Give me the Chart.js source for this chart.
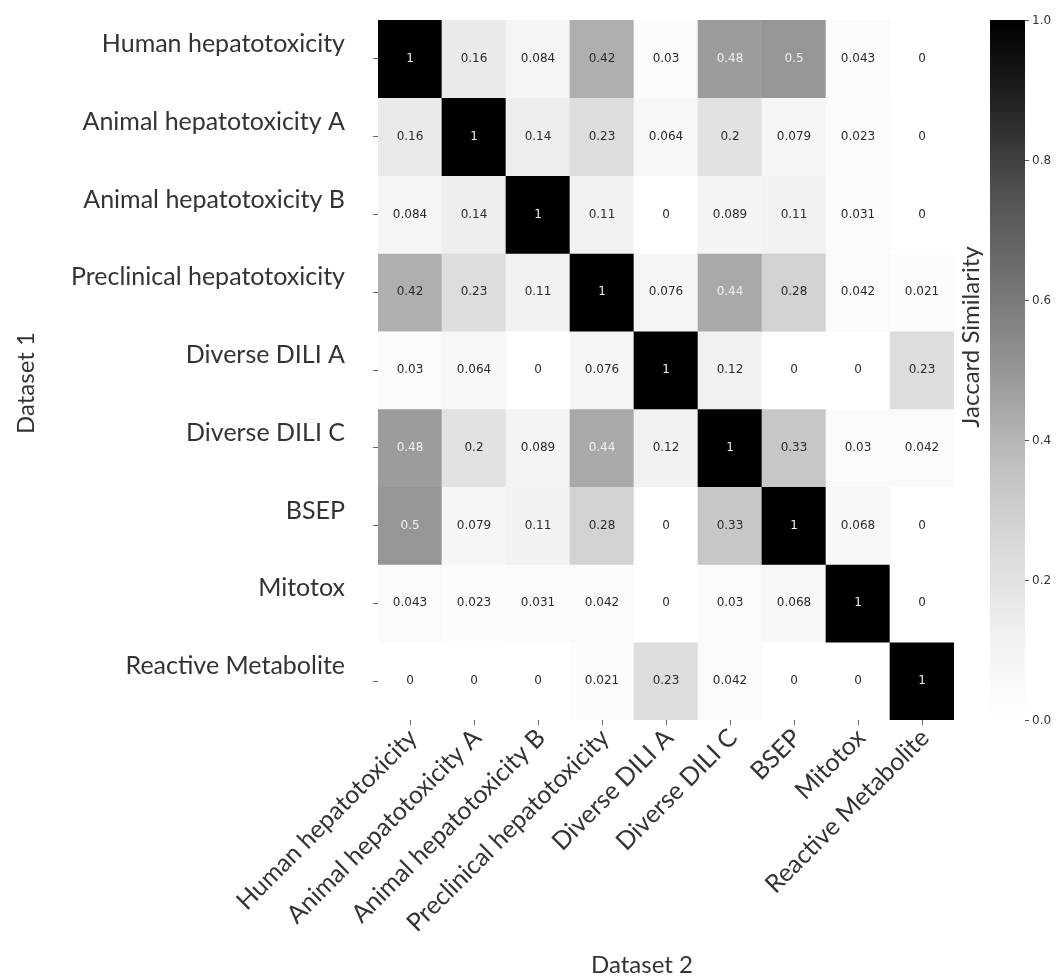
<!DOCTYPE html>
<html>
<head>
<meta charset="utf-8">
<title>Jaccard Similarity between hepatotoxicity datasets</title>
<script src="https://cdn.jsdelivr.net/npm/chart.js@4.4.1/dist/chart.umd.min.js"></script>
<style>
  html, body { margin: 0; padding: 0; background: #ffffff; }
  canvas { display: block; }
</style>
</head>
<body>
<canvas id="heatmap" width="1061" height="976"></canvas>
<script>
// Dataset names (rows = Dataset 1, columns = Dataset 2)
const datasetNames = [
  'Human hepatotoxicity',
  'Animal hepatotoxicity A',
  'Animal hepatotoxicity B',
  'Preclinical hepatotoxicity',
  'Diverse DILI A',
  'Diverse DILI C',
  'BSEP',
  'Mitotox',
  'Reactive Metabolite'
];

// Jaccard similarity, one row per dataset
const humanHepatotoxicity       = [1, 0.16, 0.084, 0.42, 0.03, 0.48, 0.5, 0.043, 0];
const animalHepatotoxicityA     = [0.16, 1, 0.14, 0.23, 0.064, 0.2, 0.079, 0.023, 0];
const animalHepatotoxicityB     = [0.084, 0.14, 1, 0.11, 0, 0.089, 0.11, 0.031, 0];
const preclinicalHepatotoxicity = [0.42, 0.23, 0.11, 1, 0.076, 0.44, 0.28, 0.042, 0.021];
const diverseDiliA              = [0.03, 0.064, 0, 0.076, 1, 0.12, 0, 0, 0.23];
const diverseDiliC              = [0.48, 0.2, 0.089, 0.44, 0.12, 1, 0.33, 0.03, 0.042];
const bsep                      = [0.5, 0.079, 0.11, 0.28, 0, 0.33, 1, 0.068, 0];
const mitotox                   = [0.043, 0.023, 0.031, 0.042, 0, 0.03, 0.068, 1, 0];
const reactiveMetabolite        = [0, 0, 0, 0.021, 0.23, 0.042, 0, 0, 1];

const similarityRows = [
  humanHepatotoxicity, animalHepatotoxicityA, animalHepatotoxicityB,
  preclinicalHepatotoxicity, diverseDiliA, diverseDiliC, bsep, mitotox,
  reactiveMetabolite
];

// Colour bar tick values
const colorbarTicks = [0.0, 0.2, 0.4, 0.6, 0.8, 1.0];

// "Greys" colormap: 9 evenly spaced grey levels from white (0) to black (1)
const GREY_STOPS = [255, 240, 217, 189, 150, 115, 82, 37, 0];

function greyLevel(v) {
  const t = Math.min(1, Math.max(0, v)) * (GREY_STOPS.length - 1);
  const i = Math.min(GREY_STOPS.length - 2, Math.floor(t));
  const f = t - i;
  return GREY_STOPS[i] + (GREY_STOPS[i + 1] - GREY_STOPS[i]) * f;
}
function greyColor(v) {
  const g = Math.round(greyLevel(v));
  return `rgb(${g},${g},${g})`;
}
function annotationColor(v) {
  const c = greyLevel(v) / 255;
  const lin = c <= 0.03928 ? c / 12.92 : Math.pow((c + 0.055) / 1.055, 2.4);
  return lin > 0.408 ? '#2b2b2b' : '#efefef';
}
function formatValue(v) {
  return String(Number(v.toPrecision(2)));
}

const LABEL_FONT = 'Lato';
const TEXT_COLOR = '#333333';

// Writes the similarity value in the middle of every cell
const cellLabels = {
  id: 'cellLabels',
  afterDatasetsDraw(chart) {
    const ctx = chart.ctx;
    ctx.save();
    ctx.font = "12px 'DejaVu Sans'";
    ctx.textAlign = 'center';
    ctx.textBaseline = 'middle';
    chart.data.datasets.forEach((ds, d) => {
      const meta = chart.getDatasetMeta(d);
      meta.data.forEach((el, i) => {
        const v = similarityRows[d][i];
        const p = el.getProps(['x', 'y', 'base'], true);
        ctx.fillStyle = annotationColor(v);
        ctx.fillText(formatValue(v), p.x, (p.y + p.base) / 2);
      });
    });
    ctx.restore();
  }
};

// Colour bar on the right, positioned with the hidden "cb" scale
const colorbar = {
  id: 'colorbar',
  afterDraw(chart) {
    const ctx = chart.ctx;
    const cb = chart.scales.cb;
    const area = chart.chartArea;
    const x0 = area.right + 36;
    const w = 35;
    const yTop = cb.getPixelForValue(1);
    const yBot = cb.getPixelForValue(0);
    ctx.save();
    const grad = ctx.createLinearGradient(0, yBot, 0, yTop);
    GREY_STOPS.forEach((g, i) => {
      grad.addColorStop(i / (GREY_STOPS.length - 1), `rgb(${g},${g},${g})`);
    });
    ctx.fillStyle = grad;
    ctx.fillRect(x0, yTop, w, yBot - yTop);
    ctx.strokeStyle = '#555555';
    ctx.lineWidth = 1;
    ctx.fillStyle = TEXT_COLOR;
    ctx.font = "12px 'DejaVu Sans'";
    ctx.textAlign = 'left';
    ctx.textBaseline = 'middle';
    colorbarTicks.forEach(t => {
      const y = Math.round(cb.getPixelForValue(t)) + 0.5;
      ctx.beginPath();
      ctx.moveTo(x0 + w, y);
      ctx.lineTo(x0 + w + 4, y);
      ctx.stroke();
      ctx.fillText(t.toFixed(1), x0 + w + 7, y);
    });
    ctx.restore();
  }
};

// Axis captions
const captions = {
  id: 'captions',
  afterDraw(chart) {
    const ctx = chart.ctx;
    const a = chart.chartArea;
    ctx.save();
    ctx.fillStyle = TEXT_COLOR;
    ctx.font = `24px ${LABEL_FONT}`;
    ctx.textAlign = 'center';
    ctx.textBaseline = 'middle';
    // Dataset 2 (columns)
    ctx.fillText('Dataset 2', a.left + 264, a.bottom + 245);
    // Dataset 1 (rows)
    ctx.save();
    ctx.translate(a.left - 352, a.top + 363);
    ctx.rotate(-Math.PI / 2);
    ctx.fillText('Dataset 1', 0, 0);
    ctx.restore();
    // Colour bar label
    ctx.save();
    ctx.translate(a.right + 17, a.top + 317);
    ctx.rotate(-Math.PI / 2);
    ctx.fillText('Jaccard Similarity', 0, 0);
    ctx.restore();
    ctx.restore();
  }
};

function tickGrid(offset) {
  return {
    display: true,
    offset: offset,
    drawOnChartArea: false,
    drawTicks: true,
    tickLength: 5,
    color: '#666666',
    tickColor: '#666666',
    tickWidth: 1
  };
}

new Chart(document.getElementById('heatmap'), {
  type: 'bar',
  data: {
    labels: datasetNames,
    datasets: similarityRows.map((row, r) => ({
      label: datasetNames[r],
      yAxisID: 'y',
      data: row.map(() => [r, r + 1]),
      backgroundColor: row.map(greyColor),
      borderWidth: 0,
      grouped: false,
      barPercentage: 1,
      categoryPercentage: 1
    }))
  },
  options: {
    responsive: false,
    animation: false,
    devicePixelRatio: 1,
    layout: { padding: { top: 20, right: 107, bottom: 0, left: 0 } },
    plugins: {
      legend: { display: false },
      tooltip: { enabled: false }
    },
    scales: {
      x: {
        type: 'category',
        position: 'bottom',
        offset: true,
        grid: tickGrid(false),
        border: { display: false },
        ticks: {
          autoSkip: false,
          minRotation: 45,
          maxRotation: 45,
          padding: -2,
          labelOffset: 3,
          color: TEXT_COLOR,
          font: { family: LABEL_FONT, size: 25 }
        },
        afterFit(scale) {
          scale.height = 256;
          scale.paddingLeft = 0;
          scale.paddingRight = 0;
        }
      },
      y: {
        type: 'linear',
        position: 'left',
        min: 0,
        max: 9,
        reverse: true,
        grid: tickGrid(false),
        border: { display: false },
        afterBuildTicks(scale) {
          scale.ticks = datasetNames.map((_, i) => ({ value: i + 0.5 }));
        },
        ticks: {
          autoSkip: false,
          padding: 28,
          labelOffset: -15,
          color: TEXT_COLOR,
          font: { family: LABEL_FONT, size: 25 },
          callback: (value, index) => datasetNames[index]
        },
        afterFit(scale) {
          scale.width = 378;
          scale.paddingTop = 0;
          scale.paddingBottom = 0;
        }
      },
      cb: {
        type: 'linear',
        axis: 'y',
        position: 'right',
        min: 0,
        max: 1,
        display: false
      }
    }
  },
  plugins: [cellLabels, colorbar, captions]
});
</script>
</body>
</html>
